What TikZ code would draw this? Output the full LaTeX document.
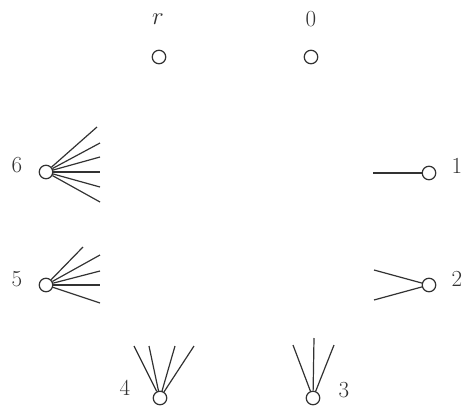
\documentclass[tikz,border=0pt]{standalone}
\usepackage{fontspec}
\definecolor{ink}{RGB}{50,50,50}
\begin{document}
\begin{tikzpicture}[x=1pt,y=-1pt,
  vtx/.style={circle,draw=ink,line width=1.2pt,minimum size=13.5pt,inner sep=0pt},
  lab/.style={text=ink,font=\fontsize{23}{26}\selectfont,inner sep=0pt},
  edge/.style={draw=ink,line width=1.2pt}]
\useasboundingbox (0,0) rectangle (463,407);
% vertices
\node[vtx] (vr) at (159,57) {};
\node[vtx] (v0) at (311,57) {};
\node[vtx] (v1) at (429,173) {};
\node[vtx] (v2) at (429,285) {};
\node[vtx] (v3) at (313,398) {};
\node[vtx] (v4) at (160,398) {};
\node[vtx] (v5) at (46,285) {};
\node[vtx] (v6) at (46,172) {};
% labels
\node[lab] (lr) at (158,19) {$r$};
\node[lab] (l0) at (311,19) {0};
\node[lab] (l1) at (457,166) {1};
\node[lab] (l2) at (457,279) {2};
\node[lab] (l3) at (344,390) {3};
\node[lab] (l4) at (125,388) {4};
\node[lab] (l5) at (17,279) {5};
\node[lab] (l6) at (17,165) {6};
% free ends
\coordinate (a1) at (373,173);
\coordinate (b1) at (374,270);
\coordinate (b2) at (374,300);
\coordinate (c1) at (293,345);
\coordinate (c2) at (314,338);
\coordinate (c3) at (334,345);
\coordinate (d1) at (134,346);
\coordinate (d2) at (149,346);
\coordinate (d3) at (175,346);
\coordinate (d4) at (194,346);
\coordinate (e1) at (83,247);
\coordinate (e2) at (100,255);
\coordinate (e3) at (100,271);
\coordinate (e4) at (100,285);
\coordinate (e5) at (100,303);
\coordinate (f1) at (97,127);
\coordinate (f2) at (100,143);
\coordinate (f3) at (100,157);
\coordinate (f4) at (100,172);
\coordinate (f5) at (100,187);
\coordinate (f6) at (100,202);
% connectors
\draw[edge] (v1) -- (a1);
\foreach \p in {b1,b2} \draw[edge] (v2) -- (\p);
\foreach \p in {c1,c2,c3} \draw[edge] (v3) -- (\p);
\foreach \p in {d1,d2,d3,d4} \draw[edge] (v4) -- (\p);
\foreach \p in {e1,e2,e3,e4,e5} \draw[edge] (v5) -- (\p);
\foreach \p in {f1,f2,f3,f4,f5,f6} \draw[edge] (v6) -- (\p);
\end{tikzpicture}
\end{document}
